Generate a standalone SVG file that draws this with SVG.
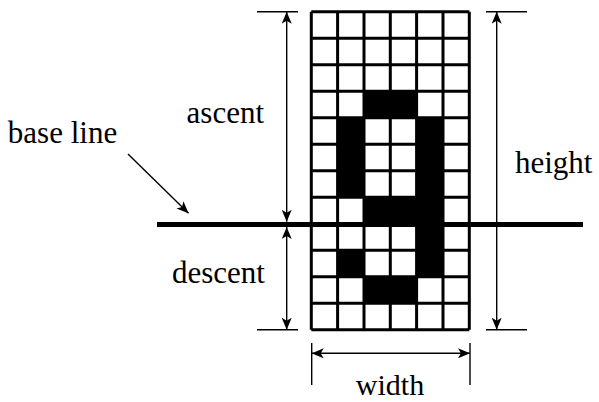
<svg xmlns="http://www.w3.org/2000/svg" width="599" height="402" viewBox="0 0 599 402">
<style>
text{font-family:"Liberation Serif","Times New Roman",serif;font-size:31px;fill:#000;text-anchor:middle}
.thin{stroke:#000;stroke-width:1.4;fill:none}
.grid{stroke:#000;stroke-width:3;fill:none}
.blk{fill:#000}
</style>
<defs>
<marker id="ah" markerUnits="userSpaceOnUse" markerWidth="12" markerHeight="10" refX="12" refY="5" orient="auto-start-reverse" viewBox="0 0 12 10">
<path d="M0,0 L12,5 L0,10 L3,5 z" fill="#000"/>
</marker>
</defs>
<rect width="599" height="402" fill="#fff"/>
<g id="glyph">
<rect x="311.3" y="11.7" width="158" height="318" fill="#fff"/>
<rect class="blk" x="364" y="91.2" width="52.6" height="26.5"/>
<rect class="blk" x="337.6" y="117.7" width="26.4" height="79.5"/>
<rect class="blk" x="416.6" y="117.7" width="26.4" height="159"/>
<rect class="blk" x="364" y="197.2" width="52.6" height="26.5"/>
<rect class="blk" x="337.6" y="250.2" width="26.4" height="26.5"/>
<rect class="blk" x="364" y="276.7" width="52.6" height="26.5"/>
<path class="grid" d="M311.3,11.7V329.7M337.6,11.7V329.7M364,11.7V329.7M390.3,11.7V329.7M416.6,11.7V329.7M443,11.7V329.7M469.3,11.7V329.7
M311.3,11.7H469.3M311.3,38.2H469.3M311.3,64.7H469.3M311.3,91.2H469.3M311.3,117.7H469.3M311.3,144.2H469.3M311.3,170.7H469.3M311.3,197.2H469.3M311.3,223.7H469.3M311.3,250.2H469.3M311.3,276.7H469.3M311.3,303.2H469.3M311.3,329.7H469.3"/>
</g>
<g id="connectors">
<line x1="157" y1="224.5" x2="583" y2="224.5" stroke="#000" stroke-width="5"/>
<line class="thin" x1="128" y1="154" x2="188.5" y2="213.3" marker-end="url(#ah)"/>
<line class="thin" x1="257" y1="11.7" x2="298" y2="11.7"/>
<line class="thin" x1="257" y1="329.7" x2="298" y2="329.7"/>
<line class="thin" x1="286.7" y1="11.7" x2="286.7" y2="221.8" marker-start="url(#ah)" marker-end="url(#ah)"/>
<line class="thin" x1="286.7" y1="227" x2="286.7" y2="329.7" marker-start="url(#ah)" marker-end="url(#ah)"/>
<line class="thin" x1="486" y1="11.7" x2="527" y2="11.7"/>
<line class="thin" x1="486" y1="329.7" x2="527" y2="329.7"/>
<line class="thin" x1="496.7" y1="11.7" x2="496.7" y2="329.7" marker-start="url(#ah)" marker-end="url(#ah)"/>
<line class="thin" x1="311.7" y1="343" x2="311.7" y2="385"/>
<line class="thin" x1="470" y1="343" x2="470" y2="385"/>
<line class="thin" x1="311.7" y1="353.3" x2="470" y2="353.3" marker-start="url(#ah)" marker-end="url(#ah)"/>
</g>
<g id="label-baseline"><text x="62.5" y="143.3">base line</text></g>
<g id="label-ascent"><text x="225.3" y="123.3">ascent</text></g>
<g id="label-descent"><text x="218.5" y="283.3">descent</text></g>
<g id="label-height"><text x="553.7" y="173.3">height</text></g>
<g id="label-width"><text x="390" y="395" style="font-size:30px">width</text></g>
</svg>
